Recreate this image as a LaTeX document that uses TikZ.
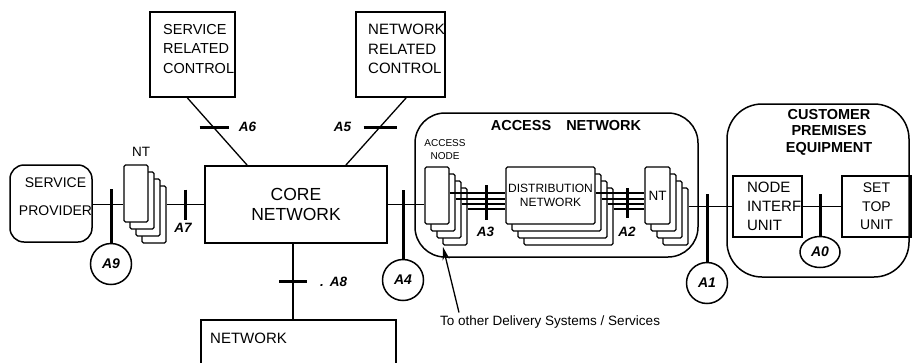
\documentclass[tikz,border=0pt]{standalone}
\usepackage{fontspec}
\setmainfont{Liberation Sans}
\usetikzlibrary{positioning,calc,arrows.meta,shapes.geometric}

\newcommand{\fsz}[2]{\fontsize{#1}{#2}\selectfont}

\tikzset{
  box/.style={draw, line width=1.5pt, inner sep=0pt},
  card/.style={box, line width=1.3pt, fill=white, rounded corners=1.5pt},
  zone/.style={draw, line width=1.5pt, inner sep=0pt},
  wire/.style={line width=1.3pt},
  bar/.style={line width=3pt},
  tap/.style={draw, circle, line width=1.5pt, minimum size=41pt, inner sep=0pt, font=\fsz{14}{14}\bfseries\itshape},
  ref/.style={inner sep=0pt, font=\fsz{13.5}{13.5}\bfseries\itshape},
  pointer/.style={line width=1.3pt, -{Stealth[length=13pt,width=7pt]}},
}

\begin{document}
\begin{tikzpicture}[x=1pt, y=-1pt]
        \useasboundingbox (0,0) rectangle (912,362);
        \clip (0,0) rectangle (912,362);

        % provider side
        \node[box, rounded corners=14pt, minimum width=82, minimum height=77] (sp) at (51,203.5) {};
        \node[align=center, inner sep=0pt, font=\fsz{14}{28}] (spName) at (55.5,197) {SERVICE\\PROVIDER};

        \foreach \k in {3,2,1}
            \node[card, minimum width=24, minimum height=57] at (136+6*\k, 193.5+7*\k) {};
        \node[card, minimum width=24, minimum height=57] (ntL) at (136,193.5) {};
        \node[inner sep=0pt, font=\fsz{13.5}{13.5}] (ntLName) at (141,152) {NT};

        % core and control
        \node[box, minimum width=182, minimum height=77, align=center, font=\fsz{17.5}{19.5}] (core) at (296,204.5) {CORE\\NETWORK};
        \node[box, minimum width=85, minimum height=85] (src) at (192.5,54.5) {};
        \node[anchor=north west, align=left, inner sep=0pt, font=\fsz{14.5}{19.5}] (srcName) at (163,24) {SERVICE\\RELATED\\CONTROL};
        \node[box, minimum width=89, minimum height=85] (nrc) at (400.5,54.5) {};
        \node[anchor=north west, align=left, inner sep=0pt, font=\fsz{15}{19.5}] (nrcName) at (368,24) {NETWORK\\RELATED\\CONTROL};
        \node[box, minimum width=195, minimum height=60] (nms) at (298.5,350) {};
        \node[anchor=west, inner sep=0pt, font=\fsz{15}{15}] (nmsName) at (210,338) {NETWORK};

        % access network
        \node[zone, rounded corners=30pt, minimum width=283, minimum height=144] (an) at (556.5,185) {};
        \node[inner sep=0pt, font=\fsz{14.5}{14.5}\bfseries] (anName) at (566,126) {ACCESS\hspace{15pt}NETWORK};

        \foreach \k in {3,2,1}
            \node[card, minimum width=24, minimum height=57] at (437+6*\k, 195.5+7*\k) {};
        \node[card, minimum width=24, minimum height=57] (acn) at (437,195.5) {};
        \node[align=center, inner sep=0pt, font=\fsz{10}{13}] (acnName) at (445,150) {ACCESS\\NODE};

        \foreach \k in {3,2,1}
            \node[card, minimum width=89, minimum height=57] at (550.5+6*\k, 195.5+7*\k) {};
        \node[card, minimum width=89, minimum height=57, align=center, font=\fsz{12}{13.5}] (dist) at (550.5,195.5) {DISTRIBUTION\\NETWORK};

        \foreach \k in {3,2,1}
            \node[card, minimum width=25, minimum height=57] at (657.5+6*\k, 195.5+7*\k) {};
        \node[card, minimum width=25, minimum height=57, font=\fsz{13.5}{13.5}] (ntA) at (657.5,195.5) {NT};

        % customer premises
        \node[zone, rounded corners=35pt, minimum width=182, minimum height=173] (cpe) at (818,190.5) {};
        \node[align=center, inner sep=0pt, font=\fsz{14.5}{16.5}\bfseries] (cpeName) at (829,132) {CUSTOMER\\PREMISES\\EQUIPMENT};
        \node[box, minimum width=69, minimum height=61, text width=41, align=left, font=\fsz{15}{19}] (niu) at (767.5,206.5) {NODE\\INTERF\\UNIT};
        \node[box, minimum width=69, minimum height=61, align=center, font=\fsz{14}{18.5}] (stu) at (876.5,206.5) {SET\\TOP\\UNIT};

        % reference points
        \node[tap] (a9) at (111,264) {A9};
        \node[tap] (a4) at (403,280) {A4};
        \node[tap] (a1) at (707,283) {A1};
        \node[tap, ellipse, minimum width=40, minimum height=31] (a0) at (820,252) {A0};

        % links
        \draw[wire] (sp.east |- core.west) -- (ntL.west |- core.west);
        \draw[wire] ($(ntL.east |- core.west)+(18,0)$) -- coordinate[pos=0.5] (a7pt) (core.west);
        \draw[wire] ($(src.south west)+(38,0)$) -- coordinate[pos=0.44] (a6pt) ($(core.north west)+(43,0)$);
        \draw[wire] ($(nrc.south west)+(51,0)$) -- coordinate[pos=0.44] (a5pt) ($(core.north east)+(-42,0)$);
        \draw[wire] ($(core.south)+(-3,0)$) -- coordinate[pos=0.506] (a8pt) ($(core.south |- nms.north)+(-3,0)$);
        \draw[wire] (core.east) -- (acn.west |- core.east);
        \foreach \k/\dy in {0/-2.5,1/3.5,2/8.5,3/13.5} {
            \draw[wire] ($(acn.east)+(6*\k,\dy)$) -- ($(dist.west)+(0,\dy)$);
            \draw[wire] ($(dist.east)+(6*\k,\dy)$) -- ($(ntA.west)+(0,\dy)$);
        }
        \draw[wire] ($(ntA.east |- niu.west)+(18,0)$) -- (niu.west);
        \draw[wire] (niu.east) -- (stu.west);

        % interface bars
        \coordinate (a3pt) at ($(acn.east)!0.5!(dist.west)+(9,0)$);
        \coordinate (a2pt) at ($(dist.east)!0.5!(ntA.west)+(7,0)$);
        \draw[bar] (a9.north) -- ++(0,-54);
        \draw[bar] ($(a7pt)+(0,-15)$) -- ++(0,30);
        \draw[bar] ($(a6pt)+(-14,0)$) -- ++(29,0);
        \draw[bar] ($(a5pt)+(-16,0)$) -- ++(33,0);
        \draw[bar] ($(a8pt)+(-14,0)$) -- ++(28,0);
        \draw[bar] (a4.north) -- ++(0,-69);
        \draw[bar] ($(a3pt)+(0,-10.5)$) -- ++(0,35);
        \draw[bar] ($(a2pt)+(0,-7.5)$) -- ++(0,30);
        \draw[bar] (a1.north) -- ++(0,-68);
        \draw[bar] (a0.north) -- ++(0,-42);

        \node[ref] (a7) at (183,228) {A7};
        \node[ref] (a6) at (247.5,127) {A6};
        \node[ref] (a5) at (342.5,127) {A5};
        \node[ref, anchor=west] (a8) at (320,282) {.\hspace{6pt}A8};
        \node[ref] (a3) at ($(a3pt)+(-1,36.5)$) {A3};
        \node[ref] (a2) at ($(a2pt)+(0,36.5)$) {A2};

        \node[anchor=base west, inner sep=0pt, font=\fsz{13.5}{13.5}] (deliv) at (440,325.5) {To other Delivery Systems / Services};
        \coordinate (acnTip) at (443,247);
        \draw[pointer] ($(deliv.north west)+(19,-3)$) -- (acnTip);
    \end{tikzpicture}
\end{document}
